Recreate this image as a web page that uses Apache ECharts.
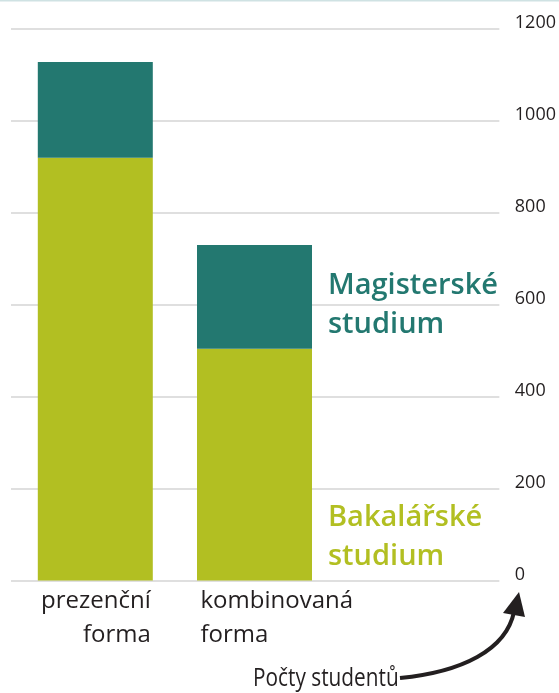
<!DOCTYPE html>
<html>
<head>
<meta charset="utf-8">
<script src="https://cdn.jsdelivr.net/npm/echarts@6/dist/echarts.min.js"></script>
<style>
  html, body { margin: 0; padding: 0; background: #fff; }
  #chart { width: 559px; height: 693px; }
</style>
</head>
<body>
<div id="chart"></div>
<script>
// data
const categories = ['prezenční', 'kombinovaná'];
const bakalarske = [920, 504];
const magisterske = [208, 226];
const yTicks = [0, 200, 400, 600, 800, 1000, 1200];

const teal = '#237870';
const lime = '#b2bf22';
const font = "'Open Sans', sans-serif";

const chart = echarts.init(document.getElementById('chart'));

// label boxes: first one right aligned to the bar, second left aligned
const catData = categories.map((c, i) => ({
  value: c,
  textStyle: {
    rich: {
      a: {
        width: i === 0 ? 111 : 108,
        align: i === 0 ? 'right' : 'left',
        fontFamily: font, fontSize: 24, color: '#231f20', lineHeight: 34
      }
    }
  }
}));
catData.push('');

const seriesLabel = (text, color, offY) => ({
  show: true,
  position: 'right',
  distance: 16,
  offset: [0, offY],
  formatter: (p) => p.dataIndex === 1 ? text : '',
  fontFamily: font,
  fontWeight: 600,
  fontSize: 29,
  lineHeight: 39,
  color: color
});

const option = {
  animation: false,
  backgroundColor: '#fff',
  grid: [
    { left: 11, right: 57.5, top: 29, bottom: 112.5 },
    { left: 15.7, right: 65.7, top: 29, bottom: 112.5 }
  ],
  xAxis: [
    { gridIndex: 0, type: 'category', data: ['a'], show: false },
    {
      gridIndex: 1,
      type: 'category',
      data: catData,
      axisLine: { show: false },
      axisTick: { show: false },
      axisLabel: {
        margin: 4,
        interval: 0,
        formatter: (v) => v ? '{a|' + v + '}\n{a|forma}' : ''
      }
    }
  ],
  yAxis: [
    {
      gridIndex: 0,
      type: 'value',
      position: 'right',
      min: 0,
      max: 1200,
      interval: 200,
      axisLine: { show: false },
      axisTick: { show: false },
      splitLine: { lineStyle: { color: '#d4d4d4', width: 1.5 } },
      axisLabel: {
        margin: 15.5,
        align: 'left',
        verticalAlign: 'bottom',
        lineHeight: 12,
        fontFamily: font,
        fontSize: 18,
        color: '#231f20',
        formatter: (v) => yTicks.includes(v) ? String(v) : ''
      }
    },
    { gridIndex: 1, type: 'value', min: 0, max: 1200, show: false }
  ],
  series: [
    {
      name: 'Bakalářské studium',
      type: 'bar',
      stack: 'total',
      xAxisIndex: 1,
      yAxisIndex: 1,
      barWidth: 115,
      itemStyle: { color: lime },
      label: seriesLabel('Bakalářské\nstudium', lime, 73),
      data: bakalarske
    },
    {
      name: 'Magisterské studium',
      type: 'bar',
      stack: 'total',
      xAxisIndex: 1,
      yAxisIndex: 1,
      barWidth: 115,
      itemStyle: { color: teal },
      label: seriesLabel('Magisterské\nstudium', teal, 8),
      data: magisterske
    }
  ],
  graphic: [
    { type: 'rect', shape: { x: 0, y: 0, width: 559, height: 1.5 }, style: { fill: '#cfe2e3' }, silent: true },
    {
      type: 'text',
      x: 253,
      y: 679,
      scaleX: 0.8,
      style: {
        text: 'Počty studentů',
        fontFamily: font,
        fontSize: 26,
        fill: '#231f20',
        verticalAlign: 'middle'
      }
    },
    {
      type: 'bezierCurve',
      shape: { x1: 400, y1: 678, cpx1: 462, cpy1: 672, cpx2: 506, cpy2: 650, x2: 514, y2: 612 },
      style: { stroke: '#231f20', lineWidth: 4, fill: null }
    },
    {
      type: 'polygon',
      shape: { points: [[519, 592], [503, 613], [525, 617]] },
      style: { fill: '#231f20' }
    }
  ]
};

chart.setOption(option);
</script>
</body>
</html>
